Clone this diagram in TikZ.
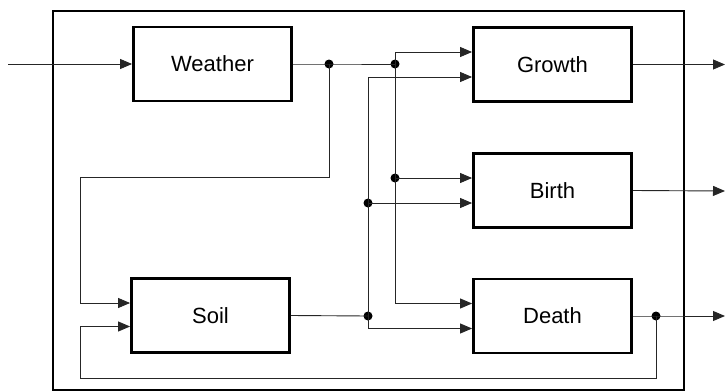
\documentclass[tikz,border=0pt]{standalone}
\usepackage{fontspec}
\setmainfont{Liberation Sans}
\usetikzlibrary{arrows.meta}
\begin{document}
\begin{tikzpicture}[x=1pt,y=-1pt,
  blk/.style={draw, line width=2.8pt, minimum width=158pt, minimum height=74pt, inner sep=0pt, font=\fontsize{22}{26}\selectfont},
  conn/.style={line width=0.9pt, draw=black!85},
  arr/.style={conn, -{Triangle[length=12pt,width=10pt]}},
  dotc/.style={circle, fill=black, inner sep=0pt, minimum size=9pt}]
\useasboundingbox (0,0) rectangle (726,391);
\draw[line width=2.7pt] (53,11) rectangle (684,390);
% blocks
\node[blk] (weather) at (212.5,64) {Weather};
\node[blk] (growth) at (552.5,64.5) {Growth};
\node[blk] (birth) at (552.5,190.5) {Birth};
\node[blk] (soil) at (210.5,315.5) {Soil};
\node[blk] (death) at (552.5,316) {Death};
% junction points
\coordinate (in) at (8,64);
\node[dotc] (w1) at (329,64) {};
\node[dotc] (j1) at (395,64) {};
\node[dotc] (j2) at (395,178) {};
\coordinate (j3) at (395,303.5);
\coordinate (jtop) at (395,52);
\node[dotc] (s1) at (368,316) {};
\node[dotc] (s2) at (368,203) {};
\coordinate (s0) at (368,77);
\coordinate (s3) at (368,328.5);
\coordinate (fb1) at (80,177);
\coordinate (fb2) at (80,378);
\node[dotc] (d1) at (656,316) {};
\coordinate (og) at (725,64.5);
\coordinate (ob) at (725,191);
\coordinate (od) at (725,316);
% input
\draw[arr] (in) -- (weather.west);
% weather output
\draw[conn] (weather.east) -- (w1.center) -- (j1.center);
\draw[conn] (jtop) -- (j3);
\draw[arr] (jtop) -- ([yshift=12.5pt]growth.west);
\draw[arr] (j2.center) -- ([yshift=12.5pt]birth.west);
\draw[arr] (j3) -- ([yshift=12.5pt]death.west);
% weather feedback to soil
\draw[conn] (w1.center) |- (fb1);
\draw[arr] (fb1) |- ([yshift=12.5pt]soil.west);
% soil output
\draw[conn] (soil.east) -- (s1.center);
\draw[conn] (s0) -- (s3);
\draw[arr] (s0) -- ([yshift=-12.5pt]growth.west);
\draw[arr] (s2.center) -- ([yshift=-12.5pt]birth.west);
\draw[arr] (s3) -- ([yshift=-12.5pt]death.west);
% outputs
\draw[arr] (growth.east) -- (og);
\draw[arr] (birth.east) -- (ob);
\draw[arr] (death.east) -- (d1.center) -- (od);
% death feedback to soil
\draw[conn] (d1.center) |- (fb2);
\draw[arr] (fb2) |- ([yshift=-11pt]soil.west);
\end{tikzpicture}
\end{document}
